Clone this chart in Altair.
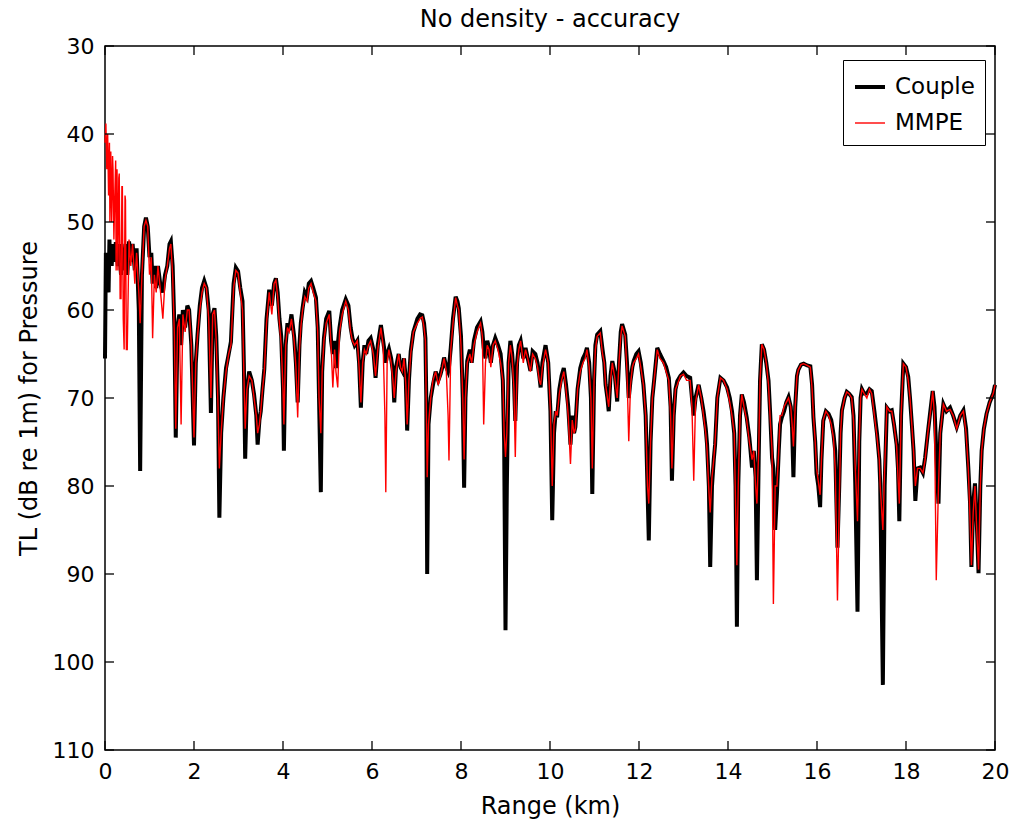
import altair as alt
import pandas as pd

# ---- data ----
range_km = [
    0.00, 0.02, 0.04, 0.06, 0.08, 0.10, 0.11, 0.13, 0.15, 0.17, 0.18, 0.20, 0.22, 0.24, 0.25, 0.27,
    0.29, 0.31, 0.32, 0.34, 0.36, 0.38, 0.39, 0.41, 0.43, 0.45, 0.46, 0.48, 0.50, 0.54, 0.58, 0.62,
    0.67, 0.71, 0.76, 0.79, 0.83, 0.88, 0.92, 0.96, 1.00, 1.04, 1.07, 1.11, 1.15, 1.19, 1.24, 1.30,
    1.35, 1.40, 1.45, 1.48, 1.52, 1.56, 1.59, 1.63, 1.67, 1.71, 1.75, 1.80, 1.85, 1.89, 1.94, 2.00,
    2.04, 2.08, 2.13, 2.18, 2.23, 2.28, 2.33, 2.38, 2.42, 2.46, 2.50, 2.54, 2.57, 2.61, 2.66, 2.72,
    2.78, 2.83, 2.89, 2.94, 2.99, 3.04, 3.09, 3.12, 3.15, 3.19, 3.24, 3.30, 3.35, 3.40, 3.43, 3.47,
    3.50, 3.54, 3.58, 3.63, 3.69, 3.75, 3.80, 3.84, 3.88, 3.92, 3.96, 4.00, 4.02, 4.06, 4.10, 4.14,
    4.19, 4.25, 4.29, 4.33, 4.37, 4.40, 4.44, 4.49, 4.54, 4.58, 4.63, 4.68, 4.74, 4.78, 4.81, 4.85,
    4.88, 4.92, 4.97, 5.04, 5.08, 5.12, 5.16, 5.19, 5.23, 5.27, 5.33, 5.41, 5.47, 5.52, 5.56, 5.61,
    5.67, 5.71, 5.75, 5.79, 5.83, 5.87, 5.92, 5.97, 6.03, 6.08, 6.13, 6.20, 6.25, 6.29, 6.31, 6.34,
    6.38, 6.43, 6.47, 6.50, 6.54, 6.60, 6.64, 6.68, 6.72, 6.76, 6.79, 6.83, 6.87, 6.93, 7.02, 7.08,
    7.13, 7.17, 7.20, 7.22, 7.24, 7.27, 7.32, 7.37, 7.43, 7.49, 7.54, 7.58, 7.62, 7.67, 7.71, 7.73,
    7.77, 7.82, 7.88, 7.92, 7.95, 8.00, 8.04, 8.07, 8.10, 8.14, 8.20, 8.24, 8.29, 8.36, 8.44, 8.48,
    8.51, 8.55, 8.59, 8.63, 8.67, 8.72, 8.77, 8.83, 8.89, 8.94, 8.97, 9.00, 9.03, 9.07, 9.11, 9.15,
    9.19, 9.22, 9.26, 9.30, 9.34, 9.40, 9.45, 9.50, 9.56, 9.61, 9.67, 9.72, 9.76, 9.79, 9.83, 9.90,
    9.96, 10.01, 10.05, 10.09, 10.13, 10.16, 10.21, 10.26, 10.31, 10.36, 10.41, 10.46, 10.50, 10.54, 10.57, 10.62,
    10.68, 10.74, 10.79, 10.83, 10.88, 10.92, 10.95, 10.99, 11.02, 11.06, 11.13, 11.18, 11.22, 11.25, 11.29, 11.32,
    11.36, 11.40, 11.45, 11.51, 11.55, 11.59, 11.62, 11.69, 11.73, 11.77, 11.81, 11.85, 11.88, 11.94, 11.99, 12.04,
    12.10, 12.15, 12.19, 12.22, 12.26, 12.30, 12.33, 12.41, 12.47, 12.55, 12.61, 12.67, 12.71, 12.74, 12.78, 12.82,
    12.86, 12.93, 13.00, 13.07, 13.15, 13.19, 13.23, 13.27, 13.34, 13.40, 13.45, 13.50, 13.53, 13.57, 13.60, 13.64,
    13.68, 13.71, 13.76, 13.83, 13.90, 13.98, 14.04, 14.09, 14.14, 14.17, 14.20, 14.23, 14.27, 14.31, 14.36, 14.42,
    14.48, 14.54, 14.58, 14.62, 14.65, 14.69, 14.72, 14.76, 14.81, 14.86, 14.91, 14.95, 14.99, 15.02, 15.06, 15.10,
    15.14, 15.17, 15.21, 15.26, 15.31, 15.36, 15.41, 15.44, 15.47, 15.51, 15.55, 15.58, 15.64, 15.70, 15.78, 15.85,
    15.89, 15.92, 15.96, 15.99, 16.03, 16.07, 16.10, 16.14, 16.20, 16.26, 16.32, 16.37, 16.41, 16.46, 16.50, 16.53,
    16.56, 16.62, 16.67, 16.72, 16.78, 16.82, 16.86, 16.91, 16.95, 16.98, 17.01, 17.06, 17.12, 17.18, 17.23, 17.29,
    17.35, 17.40, 17.42, 17.48, 17.52, 17.57, 17.63, 17.68, 17.73, 17.79, 17.82, 17.85, 17.89, 17.94, 18.00, 18.05,
    18.09, 18.13, 18.17, 18.21, 18.26, 18.32, 18.38, 18.43, 18.49, 18.54, 18.60, 18.64, 18.68, 18.73, 18.77, 18.84,
    18.91, 18.99, 19.06, 19.14, 19.22, 19.29, 19.35, 19.40, 19.44, 19.47, 19.51, 19.55, 19.59, 19.63, 19.67, 19.70,
    19.75, 19.81, 19.88, 19.96, 20.00,
]

couple_tl = [
    65.5, 53.5, 56.0, 53.5, 58.0, 52.0, 54.0, 52.5, 55.0, 53.0, 52.5, 54.5, 54.0, 52.5, 52.5, 54.0,
    55.0, 53.0, 52.5, 54.5, 56.0, 53.5, 53.0, 54.0, 55.5, 53.0, 52.5, 54.5, 56.0, 52.2, 54.5, 52.5,
    55.5, 53.0, 60.0, 78.3, 56.0, 50.5, 49.5, 50.5, 54.0, 53.5, 57.0, 55.0, 57.5, 55.0, 57.0, 58.0,
    56.0, 55.0, 52.5, 52.2, 55.0, 62.0, 74.5, 62.0, 60.5, 64.0, 60.0, 62.0, 59.5, 60.0, 64.0, 75.4,
    66.0, 62.8, 59.5, 57.5, 56.7, 57.5, 60.0, 71.7, 60.5, 59.8, 63.0, 70.0, 83.6, 74.0, 70.0, 66.6,
    65.0, 63.6, 57.0, 55.2, 55.6, 57.5, 59.0, 66.0, 76.9, 69.0, 67.0, 68.0, 69.6, 72.0, 75.3, 72.5,
    71.5, 69.0, 66.7, 61.0, 57.7, 59.5, 57.0, 56.4, 58.0, 61.0, 63.0, 69.0, 76.0, 64.0, 61.5, 62.3,
    60.5, 63.0, 66.0, 70.5, 64.0, 61.5, 59.8, 58.0, 58.5, 57.0, 56.7, 57.5, 58.6, 62.0, 70.0, 80.7,
    67.0, 63.2, 61.0, 60.1, 63.5, 65.0, 63.5, 66.6, 64.0, 62.0, 60.0, 58.8, 59.5, 62.0, 63.2, 64.0,
    63.5, 66.0, 71.1, 66.0, 64.0, 65.0, 63.5, 63.2, 64.5, 67.7, 64.0, 61.7, 63.5, 65.0, 66.0, 65.0,
    64.4, 65.5, 67.0, 70.5, 66.5, 65.0, 66.5, 66.9, 65.5, 68.0, 73.7, 68.0, 64.7, 62.5, 61.0, 60.5,
    60.6, 61.5, 63.2, 70.0, 90.0, 73.0, 70.0, 68.5, 67.0, 68.0, 67.3, 66.5, 65.4, 66.5, 67.0, 66.5,
    64.3, 61.0, 58.5, 59.0, 59.8, 63.0, 70.0, 80.2, 70.0, 65.8, 64.5, 66.0, 63.5, 62.0, 61.3, 62.5,
    64.3, 65.5, 63.5, 64.3, 66.0, 64.0, 63.2, 64.0, 65.0, 68.0, 75.0, 96.4, 80.0, 66.0, 63.5, 65.0,
    68.0, 72.6, 66.0, 64.0, 63.5, 65.5, 64.3, 65.5, 66.9, 64.7, 65.0, 66.0, 67.5, 68.8, 66.0, 64.0,
    66.0, 71.5, 83.9, 74.0, 71.5, 72.2, 69.0, 67.5, 66.6, 68.5, 71.0, 75.3, 72.0, 74.0, 73.3, 69.0,
    66.6, 65.5, 65.0, 64.3, 66.0, 70.0, 80.9, 68.0, 64.0, 62.8, 62.4, 64.5, 66.0, 68.5, 70.0, 71.5,
    67.5, 65.8, 67.0, 70.4, 66.0, 62.5, 61.6, 62.8, 66.0, 70.0, 68.0, 66.5, 65.8, 65.0, 64.7, 66.0,
    68.5, 72.0, 80.0, 86.2, 75.0, 70.0, 68.5, 64.3, 65.0, 65.8, 66.5, 67.7, 71.0, 79.4, 72.0, 69.0,
    68.1, 67.5, 67.1, 67.5, 67.7, 70.0, 72.0, 70.0, 68.5, 70.0, 71.5, 73.5, 75.3, 80.0, 89.2, 80.0,
    77.0, 75.3, 70.0, 67.7, 68.0, 68.8, 70.0, 71.5, 74.0, 80.0, 96.0, 80.0, 72.0, 69.6, 70.5, 72.2,
    74.5, 77.9, 76.0, 79.0, 90.7, 76.8, 68.0, 63.9, 64.5, 66.0, 68.0, 72.0, 76.8, 78.0, 85.0, 80.9,
    76.0, 73.0, 72.2, 71.5, 70.5, 69.9, 71.0, 73.3, 79.0, 71.0, 67.5, 66.8, 66.2, 66.1, 66.3, 66.4,
    68.5, 72.2, 75.0, 78.6, 80.0, 82.4, 77.0, 72.6, 71.5, 71.8, 72.5, 74.1, 76.0, 87.0, 80.0, 74.0,
    71.4, 70.0, 69.3, 69.5, 69.9, 72.0, 79.7, 94.3, 75.0, 70.0, 69.0, 69.5, 69.5, 69.0, 69.2, 71.5,
    74.1, 77.0, 79.7, 102.6, 80.0, 71.1, 71.5, 71.4, 73.0, 75.3, 78.0, 84.0, 72.0, 66.1, 66.5, 67.6,
    70.0, 72.9, 76.0, 81.7, 78.0, 77.9, 78.5, 76.8, 74.0, 71.8, 69.2, 71.0, 76.0, 82.0, 74.0, 70.7,
    71.5, 71.1, 72.0, 73.3, 72.0, 71.4, 73.5, 77.9, 82.0, 89.2, 82.0, 79.7, 84.0, 89.9, 80.0, 76.0,
    73.5, 71.8, 70.5, 69.5, 68.5,
]

mmpe_tl = [
    41.0, 38.8, 44.0, 40.0, 47.0, 41.0, 50.0, 42.0, 50.0, 42.5, 44.0, 52.0, 47.0, 43.0, 55.5, 44.0,
    55.5, 45.0, 44.5, 58.7, 58.7, 46.0, 46.0, 61.0, 64.5, 47.0, 47.5, 64.5, 64.5, 52.0, 55.0, 52.5,
    57.0, 53.5, 58.0, 61.5, 56.0, 50.5, 49.8, 50.5, 56.0, 54.0, 63.2, 56.0, 58.0, 55.0, 57.5, 61.0,
    56.5, 55.0, 53.0, 52.5, 56.0, 63.0, 73.5, 62.0, 61.0, 73.0, 60.5, 62.5, 60.0, 60.0, 64.0, 74.5,
    66.0, 63.0, 60.0, 58.0, 57.0, 57.5, 61.0, 70.0, 60.5, 60.0, 63.5, 71.0, 78.0, 74.0, 70.0, 67.0,
    65.0, 64.0, 57.5, 55.5, 55.8, 58.0, 60.0, 67.0, 73.5, 69.0, 67.5, 68.0, 70.0, 72.0, 74.0, 73.0,
    71.5, 69.0, 67.0, 61.5, 58.0, 60.5, 57.0, 56.6, 58.5, 61.5, 64.0, 69.0, 73.0, 64.0, 62.0, 62.5,
    61.0, 63.5, 66.5, 72.2, 64.5, 62.0, 60.0, 58.5, 59.0, 57.5, 57.0, 58.0, 59.0, 62.5, 70.0, 74.0,
    67.0, 63.5, 61.5, 60.5, 64.0, 68.8, 64.5, 67.0, 68.8, 62.5, 60.5, 59.0, 60.0, 62.5, 63.5, 64.0,
    63.5, 66.5, 70.5, 66.0, 64.5, 65.0, 64.0, 63.5, 65.0, 67.5, 64.5, 62.0, 64.0, 72.0, 80.7, 66.0,
    64.5, 66.0, 68.0, 70.0, 67.0, 65.0, 66.5, 67.0, 65.5, 68.5, 73.0, 68.0, 65.0, 62.5, 61.5, 61.0,
    60.8, 62.0, 63.5, 71.0, 79.0, 73.0, 70.0, 68.0, 67.0, 68.5, 67.5, 66.5, 65.5, 67.0, 72.0, 77.1,
    64.5, 61.5, 58.6, 59.5, 60.0, 64.0, 70.0, 77.0, 70.0, 66.0, 65.0, 66.0, 64.0, 62.5, 61.5, 63.0,
    73.0, 66.0, 64.0, 64.5, 66.5, 64.0, 63.5, 64.5, 66.0, 68.0, 74.0, 76.7, 74.0, 66.0, 64.0, 65.5,
    69.0, 76.7, 66.5, 64.5, 63.5, 66.0, 64.5, 65.5, 67.0, 65.0, 65.5, 66.5, 68.0, 68.5, 66.5, 64.5,
    66.0, 71.5, 80.0, 73.0, 71.5, 72.0, 69.5, 68.0, 67.0, 69.0, 72.0, 77.5, 72.5, 74.0, 73.5, 69.0,
    67.0, 66.0, 65.5, 64.5, 66.5, 70.0, 78.0, 68.0, 64.5, 63.0, 62.6, 65.0, 66.0, 68.5, 70.0, 71.0,
    68.0, 66.0, 67.5, 70.0, 66.0, 63.0, 61.8, 63.0, 67.0, 74.9, 68.5, 66.5, 66.0, 65.5, 65.0, 66.5,
    68.5, 72.0, 80.0, 82.0, 75.0, 70.0, 68.5, 64.5, 65.5, 66.0, 67.0, 68.0, 72.0, 78.0, 72.0, 69.0,
    68.5, 67.5, 67.3, 68.0, 68.0, 71.0, 79.4, 70.5, 68.5, 70.0, 72.0, 74.0, 76.0, 80.5, 83.0, 79.0,
    77.0, 75.0, 70.0, 67.7, 68.0, 69.0, 70.5, 72.0, 74.0, 82.0, 89.0, 80.0, 72.0, 69.6, 71.0, 72.5,
    75.0, 77.0, 76.0, 80.0, 82.0, 76.0, 68.0, 63.9, 64.5, 66.0, 68.5, 72.5, 76.0, 93.4, 80.0, 80.0,
    76.0, 72.0, 72.0, 71.0, 70.5, 70.0, 71.0, 73.0, 75.5, 71.0, 67.5, 66.8, 66.2, 66.1, 66.3, 66.5,
    69.0, 72.0, 75.0, 78.0, 79.5, 81.0, 77.0, 72.5, 71.5, 72.0, 73.0, 74.5, 78.0, 93.0, 82.0, 74.0,
    71.5, 70.0, 69.3, 69.5, 70.0, 72.5, 78.0, 84.0, 75.0, 70.0, 69.0, 69.5, 70.0, 69.0, 69.5, 72.0,
    74.5, 77.0, 80.0, 85.0, 78.0, 71.0, 71.5, 71.5, 73.0, 75.5, 79.0, 82.0, 72.0, 66.1, 66.5, 68.0,
    70.0, 73.0, 76.0, 80.0, 78.0, 78.0, 78.5, 77.0, 74.0, 72.0, 69.2, 72.0, 90.7, 80.0, 74.0, 70.7,
    71.5, 71.3, 72.0, 73.5, 72.0, 71.5, 74.0, 78.0, 84.0, 89.0, 83.0, 80.0, 85.0, 89.5, 80.0, 76.0,
    73.5, 71.8, 70.5, 69.5, 68.5,
]

series_names = ["Couple", "MMPE"]
series_colors = ["#000000", "#ff0000"]
series_widths = [4.0, 1.4]

x_ticks = [0, 2, 4, 6, 8, 10, 12, 14, 16, 18, 20]
y_ticks = [30, 40, 50, 60, 70, 80, 90, 100, 110]

title_text = "No density - accuracy"
x_title = "Range (km)"
y_title = "TL (dB re 1m) for Pressure"

# ---- tables ----
n = min(len(range_km), len(couple_tl), len(mmpe_tl))
df = pd.concat([
    pd.DataFrame({"range": range_km[:n], "tl": couple_tl[:n], "series": "Couple", "k": list(range(n))}),
    pd.DataFrame({"range": range_km[:n], "tl": mmpe_tl[:n], "series": "MMPE", "k": list(range(n))}),
], ignore_index=True)
xt = pd.DataFrame({"tick": x_ticks})
yt = pd.DataFrame({"tick": y_ticks})

W, H = 890, 704
FONT = "DejaVu Sans"

x_scale = alt.Scale(domain=[0, 20], nice=False, zero=False)
y_scale = alt.Scale(domain=[30, 110], reverse=True, nice=False, zero=False)

legend_cfg = dict(
    orient="none", legendX=738, legendY=14, title=None,
    symbolType="stroke", symbolSize=900, labelFontSize=23, labelFont=FONT,
    labelColor="black", strokeColor="black", fillColor="white",
    padding=10, rowPadding=8, labelOffset=8,
)
color_enc = alt.Color("series:N", scale=alt.Scale(domain=series_names, range=series_colors),
                      legend=alt.Legend(**legend_cfg))
width_enc = alt.StrokeWidth("series:N", scale=alt.Scale(domain=series_names, range=series_widths),
                            legend=alt.Legend(**legend_cfg))

x_axis = alt.Axis(values=x_ticks, ticks=False, tickSize=0, domain=False, grid=False,
                  labelFontSize=22, labelFont=FONT, labelColor="black", labelPadding=11,
                  titleFontSize=24, titleFont=FONT, titleColor="black", titleFontWeight="normal",
                  titlePadding=12, labelFlush=False)
y_axis = alt.Axis(values=y_ticks, ticks=False, tickSize=0, domain=False, grid=False,
                  labelFontSize=22, labelFont=FONT, labelColor="black", labelPadding=11,
                  titleFontSize=24, titleFont=FONT, titleColor="black", titleFontWeight="normal",
                  titlePadding=11, labelFlush=False)

def X(field):
    return alt.X(field, scale=x_scale, axis=x_axis, title=x_title)

def Y(field):
    return alt.Y(field, scale=y_scale, axis=y_axis, title=y_title)

def series_layer(name):
    return alt.Chart(df).transform_filter(alt.datum.series == name).mark_line(
        strokeJoin="miter", interpolate="linear"
    ).encode(
        x=X("range:Q"),
        y=Y("tl:Q"),
        color=color_enc,
        strokeWidth=width_enc,
        order="k:Q",
    )

couple_layer = series_layer("Couple")
mmpe_layer = series_layer("MMPE")

tick_len = 9
xb = alt.Chart(xt).mark_rule(color="black", strokeWidth=1.3).encode(
    x=X("tick:Q"), y=alt.value(H), y2=alt.value(H - tick_len))
xtop = alt.Chart(xt).mark_rule(color="black", strokeWidth=1.3).encode(
    x=X("tick:Q"), y=alt.value(0), y2=alt.value(tick_len))
yl = alt.Chart(yt).mark_rule(color="black", strokeWidth=1.3).encode(
    y=Y("tick:Q"), x=alt.value(0), x2=alt.value(tick_len))
yr = alt.Chart(yt).mark_rule(color="black", strokeWidth=1.3).encode(
    y=Y("tick:Q"), x=alt.value(W), x2=alt.value(W - tick_len))

chart = alt.layer(couple_layer, mmpe_layer, xb, xtop, yl, yr).properties(
    width=W, height=H,
    title=alt.Title(title_text, fontSize=24, font=FONT, fontWeight="normal", color="black",
                    offset=3, frame="group"),
    autosize=alt.AutoSizeParams(type="none"),
    padding={"left": 105, "top": 46, "right": 18, "bottom": 76},
    background="white",
).configure_view(stroke="black", strokeWidth=1.5)

chart.save("out.html", embed_options={"renderer": "svg", "actions": False})
